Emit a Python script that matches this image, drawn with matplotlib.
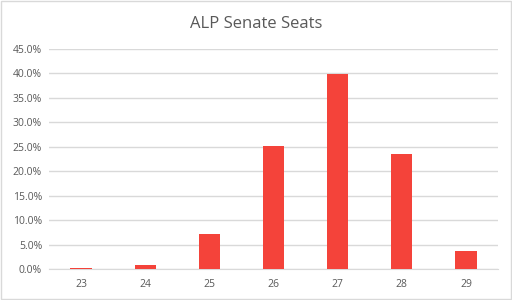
import matplotlib.pyplot as plt
from matplotlib.ticker import FuncFormatter

seats = ["23", "24", "25", "26", "27", "28", "29"]
share = [0.3, 0.8, 7.2, 25.2, 39.9, 23.5, 3.7]
yticks = [0, 5, 10, 15, 20, 25, 30, 35, 40, 45]

plt.rcParams['font.family'] = ['Open Sans', 'DejaVu Sans']

fig = plt.figure(figsize=(5.12, 3.0), dpi=100)
ax = fig.add_axes([49 / 512, 31 / 300, 449 / 512, 220 / 300])

x = range(len(seats))
ax.bar(x, share, width=0.33, color="#F4433A", zorder=3)

ax.set_xlim(-0.5, len(seats) - 0.5)
ax.set_ylim(0, 45)
ax.set_yticks(yticks)
ax.yaxis.set_major_formatter(FuncFormatter(lambda v, p: f"{v:.1f}%"))
ax.set_xticks(list(x))
ax.set_xticklabels(seats)

ax.grid(axis="y", color="#D9D9D9", linewidth=1, zorder=0)
for s in ["top", "right", "left"]:
    ax.spines[s].set_visible(False)
ax.spines["bottom"].set_color("#D9D9D9")
ax.tick_params(axis="both", length=0, labelsize=7.5, colors="#595959")
ax.tick_params(axis="x", pad=7)
ax.tick_params(axis="y", pad=5)

fig.suptitle("ALP Senate Seats", y=0.945, fontsize=12, color="#595959")

# light border around the whole chart
fig.patches.append(plt.Rectangle((0.001, 0.002), 0.997, 0.995, transform=fig.transFigure,
                                 fill=False, edgecolor="#D9D9D9", linewidth=1))

fig.savefig("out.png", dpi=100)
